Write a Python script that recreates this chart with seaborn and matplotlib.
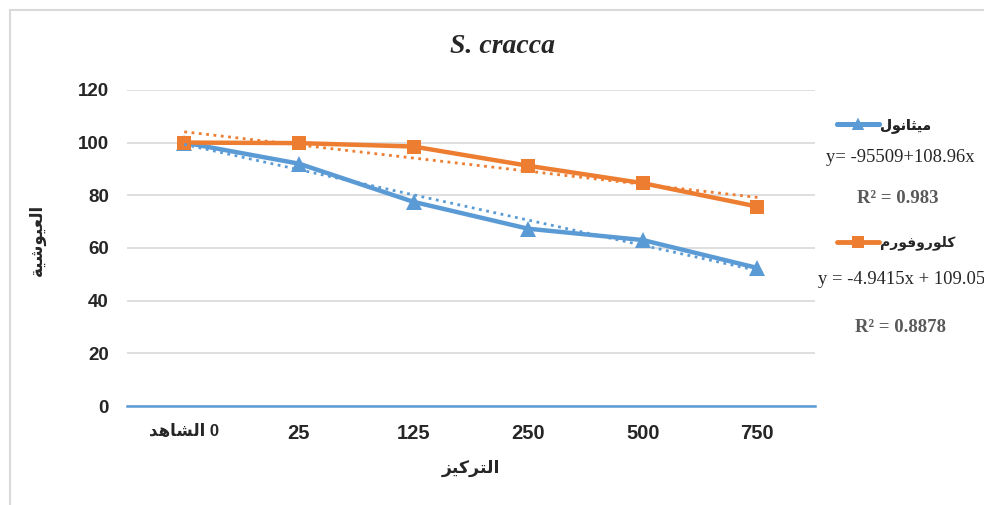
import numpy as np
import pandas as pd
import seaborn as sns
import matplotlib.pyplot as plt
from matplotlib.lines import Line2D
from matplotlib.patches import Rectangle

# data
concentrations = ["0", "25", "125", "250", "500", "750"]
methanol = [100, 92, 77.5, 67.3, 63, 52.4]
chloroform = [100, 99.8, 98.5, 91.2, 84.6, 75.7]

# arabic shaping (presentation forms) since matplotlib has no bidi/shaping
FORMS = {
    'ا': ('\uFE8D', '\uFE8E', None, None),
    'د': ('\uFEA9', '\uFEAA', None, None),
    'ر': ('\uFEAD', '\uFEAE', None, None),
    'ز': ('\uFEAF', '\uFEB0', None, None),
    'و': ('\uFEED', '\uFEEE', None, None),
    'ة': ('\uFE93', '\uFE94', None, None),
    'ل': ('\uFEDD', '\uFEDE', '\uFEDF', '\uFEE0'),
    'ش': ('\uFEB5', '\uFEB6', '\uFEB7', '\uFEB8'),
    'ه': ('\uFEE9', '\uFEEA', '\uFEEB', '\uFEEC'),
    'ت': ('\uFE95', '\uFE96', '\uFE97', '\uFE98'),
    'ك': ('\uFED9', '\uFEDA', '\uFEDB', '\uFEDC'),
    'ي': ('\uFEF1', '\uFEF2', '\uFEF3', '\uFEF4'),
    'ع': ('\uFEC9', '\uFECA', '\uFECB', '\uFECC'),
    'م': ('\uFEE1', '\uFEE2', '\uFEE3', '\uFEE4'),
    'ث': ('\uFE99', '\uFE9A', '\uFE9B', '\uFE9C'),
    'ن': ('\uFEE5', '\uFEE6', '\uFEE7', '\uFEE8'),
    'ف': ('\uFED1', '\uFED2', '\uFED3', '\uFED4'),
}

def ar(word):
    out = []
    for i, ch in enumerate(word):
        f = FORMS[ch]
        prev = word[i-1] if i > 0 else None
        nxt = word[i+1] if i < len(word)-1 else None
        jp = prev is not None and FORMS[prev][2] is not None
        jn = nxt is not None and f[2] is not None
        if jp and jn:
            out.append(f[3])
        elif jp:
            out.append(f[1])
        elif jn:
            out.append(f[2])
        else:
            out.append(f[0])
    return ''.join(reversed(out))

tick_labels = [ar("الشاهد") + " 0", "25", "125", "250", "500", "750"]
AR = ['Liberation Sans', 'DejaVu Sans']
blue = "#5B9BD5"
orange = "#ED7D31"

sns.set_style("white")
plt.rcParams['font.family'] = ['Liberation Sans', 'DejaVu Sans']

df = pd.DataFrame({"conc": concentrations, "methanol": methanol, "chloroform": chloroform})
df["pos"] = np.arange(len(df))

fig = plt.figure(figsize=(9.84, 5.05), dpi=100)
ax = fig.add_axes([0.129, 0.196, 0.699, 0.626])

# trendlines (linear fit like excel)
for col in ["methanol", "chloroform"]:
    k, b = np.polyfit(df["pos"] + 1, df[col], 1)
    df[col + "_fit"] = k * (df["pos"] + 1) + b

sns.lineplot(data=df, x="pos", y="methanol", ax=ax, color=blue, lw=3.2, marker="^",
             markersize=11, markeredgewidth=0, zorder=3)
sns.lineplot(data=df, x="pos", y="chloroform", ax=ax, color=orange, lw=3.2, marker="s",
             markersize=10, markeredgewidth=0, zorder=3)
sns.lineplot(data=df, x="pos", y="methanol_fit", ax=ax, color=blue, lw=2, ls=":", zorder=4)
sns.lineplot(data=df, x="pos", y="chloroform_fit", ax=ax, color=orange, lw=2, ls=":", zorder=4)

ax.set_xlim(-0.5, 5.5)
ax.set_ylim(0, 120)
ax.set_yticks(range(0, 121, 20))
ax.set_xticks(df["pos"])
ax.set_xticklabels(tick_labels, fontsize=14.5, fontweight="bold", family=AR)
ax.get_xticklabels()[0].set_fontsize(12)
ax.tick_params(axis="y", labelsize=13.5, length=0, pad=13)
ax.tick_params(axis="x", length=0, pad=13)
for t in ax.get_yticklabels():
    t.set_fontweight("bold")
ax.grid(axis="y", color="#D9D9D9", lw=1.2)
for s in ["top", "right", "left"]:
    ax.spines[s].set_visible(False)
ax.spines["bottom"].set_color(blue)
ax.spines["bottom"].set_linewidth(1.8)

ax.set_xlabel(ar("التركيز"), fontsize=12.5, fontweight="bold", family=AR, labelpad=12)
ax.set_ylabel(ar("العيوشية"), fontsize=12, fontweight="bold", family=AR)
ax.yaxis.set_label_coords(-0.118, 0.525)
fig.text(0.511, 0.908, "S. cracca", ha="center", va="center", fontsize=20,
         fontweight="bold", style="italic", family="Liberation Serif")

# legends split with equations between them
h1 = Line2D([], [], color=blue, lw=3.5, marker="^", markersize=9, markeredgewidth=0)
h2 = Line2D([], [], color=orange, lw=3.5, marker="s", markersize=8, markeredgewidth=0)
leg1 = fig.legend([h1], [ar("ميثانول")], loc="center left", bbox_to_anchor=(0.838, 0.752),
                  frameon=False, handlelength=3.0, handletextpad=0.1,
                  prop={"family": AR, "weight": "bold", "size": 10})
fig.add_artist(leg1)
fig.legend([h2], [ar("كلوروفورم")], loc="center left", bbox_to_anchor=(0.838, 0.519),
           frameon=False, handlelength=3.0, handletextpad=0.1,
           prop={"family": AR, "weight": "bold", "size": 10})

fig.text(0.915, 0.689, "y= -95509+108.96x", ha="center", va="center", fontsize=13.4,
         family="Liberation Serif")
fig.text(0.912, 0.607, "R² = 0.983", ha="center", va="center", fontsize=13.5,
         family="Liberation Serif", fontweight="bold", color="#595959")
fig.text(0.831, 0.446, "y = -4.9415x + 109.05", ha="left", va="center", fontsize=13.4,
         family="Liberation Serif")
fig.text(0.915, 0.352, "R² = 0.8878", ha="center", va="center", fontsize=13.5,
         family="Liberation Serif", fontweight="bold", color="#595959")

# chart border
fig.add_artist(Rectangle((10/984, -0.1), 1.1, 1.1 - 10/505, transform=fig.transFigure,
                         fill=False, edgecolor="#D9D9D9", lw=1.5))

fig.savefig("out.png", dpi=100)
